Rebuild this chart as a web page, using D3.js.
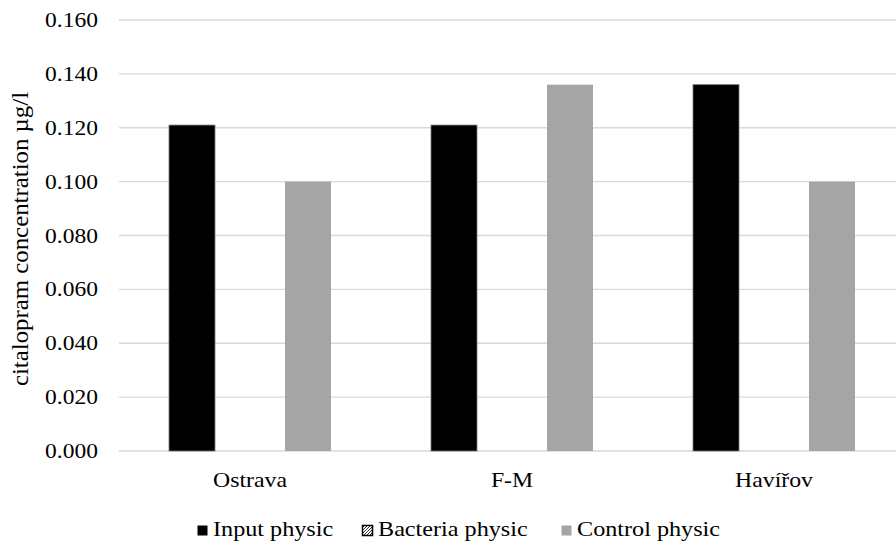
<!DOCTYPE html>
<html><head><meta charset="utf-8">
<script src="https://cdn.jsdelivr.net/npm/d3@7"></script>
<style>body{margin:0;background:#fff;} svg text{font-family:"Liberation Serif";}</style>
</head><body>
<svg id="c" width="896" height="541"></svg>
<script>
const categories = ["Ostrava", "F-M", "Havířov"];
const seriesNames = ["Input physic", "Bacteria physic", "Control physic"];
const inputPhysic = [0.121, 0.121, 0.136];
const bacteriaPhysic = [0, 0, 0];
const controlPhysic = [0.100, 0.136, 0.100];
const yTicks = [0, 0.02, 0.04, 0.06, 0.08, 0.10, 0.12, 0.14, 0.16];

const FONT = '"Liberation Serif"';
const svg = d3.select("#c");
const defs = svg.append("defs");
const pat = defs.append("pattern").attr("id","hatch").attr("patternUnits","userSpaceOnUse").attr("width",3).attr("height",3);
pat.append("rect").attr("width",3).attr("height",3).attr("fill","#fff");
pat.append("path").attr("d","M0,3 L3,0").attr("stroke","#000").attr("stroke-width",0.8);

const plotLeft = 119, plotTop = 20, plotBottom = 451;
const bandW = 262;
const x = d3.scaleBand().domain(categories).range([plotLeft, plotLeft + bandW*categories.length]).paddingInner(0).paddingOuter(0);
const y = d3.scaleLinear().domain([0, 0.16]).range([plotBottom, plotTop]);
const sub = d3.scaleBand().domain(seriesNames).range([50, bandW-50]).paddingInner(12/58);

// grid
svg.append("g").selectAll("line").data(yTicks).join("line")
  .attr("x1", plotLeft).attr("x2", 896).attr("y1", d=>y(d)).attr("y2", d=>y(d))
  .attr("stroke", "#d9d9d9").attr("stroke-width", 1.3);

// y tick labels
svg.append("g").selectAll("text").data(yTicks).join("text")
  .attr("transform", d => `translate(98,${y(d)+7}) scale(1.12,1)`).attr("text-anchor","end")
  .style("font-family", FONT).style("font-size", "21px").attr("fill","#000")
  .text(d=>d3.format(".3f")(d));

const colors = {"Input physic":"#000", "Bacteria physic":"url(#hatch)", "Control physic":"#a5a5a5"};
const vals = {"Input physic":inputPhysic, "Bacteria physic":bacteriaPhysic, "Control physic":controlPhysic};

seriesNames.forEach(s => {
  svg.append("g").selectAll("rect").data(categories).join("rect")
    .attr("x", c => x(c) + sub(s))
    .attr("width", sub.bandwidth())
    .attr("y", (c,i) => y(vals[s][i]))
    .attr("height", (c,i) => y(0) - y(vals[s][i]))
    .attr("fill", colors[s])
    .attr("stroke", s === "Input physic" ? "#777" : "none")
    .attr("stroke-width", 0.8);
});

// x labels
svg.append("g").selectAll("text").data(categories).join("text")
  .attr("transform", c => `translate(${x(c) + bandW/2},487) scale(1.08,1)`).attr("text-anchor","middle")
  .style("font-family", FONT).style("font-size", "22px").text(c=>c);

// y axis title
svg.append("text").attr("transform","translate(28,239) rotate(-90) scale(1.08,1)")
  .attr("text-anchor","middle").style("font-family", FONT).style("font-size","23px")
  .text("citalopram concentration µg/l");

// legend
const legX = [197, 362, 561];
const lg = svg.append("g");
seriesNames.forEach((s,i) => {
  const g = lg.append("g").attr("transform",`translate(${legX[i]},525)`);
  g.append("rect").attr("x",0.5).attr("y",0.5).attr("width",10).attr("height",10)
    .attr("fill", colors[s]).attr("stroke", s==="Bacteria physic" ? "#000" : "none").attr("stroke-width",1.5);
  g.append("text").attr("transform","translate(16,11) scale(1.1,1)").style("font-family", FONT).style("font-size","22px")
    .text(s);
});
</script>
</body></html>
